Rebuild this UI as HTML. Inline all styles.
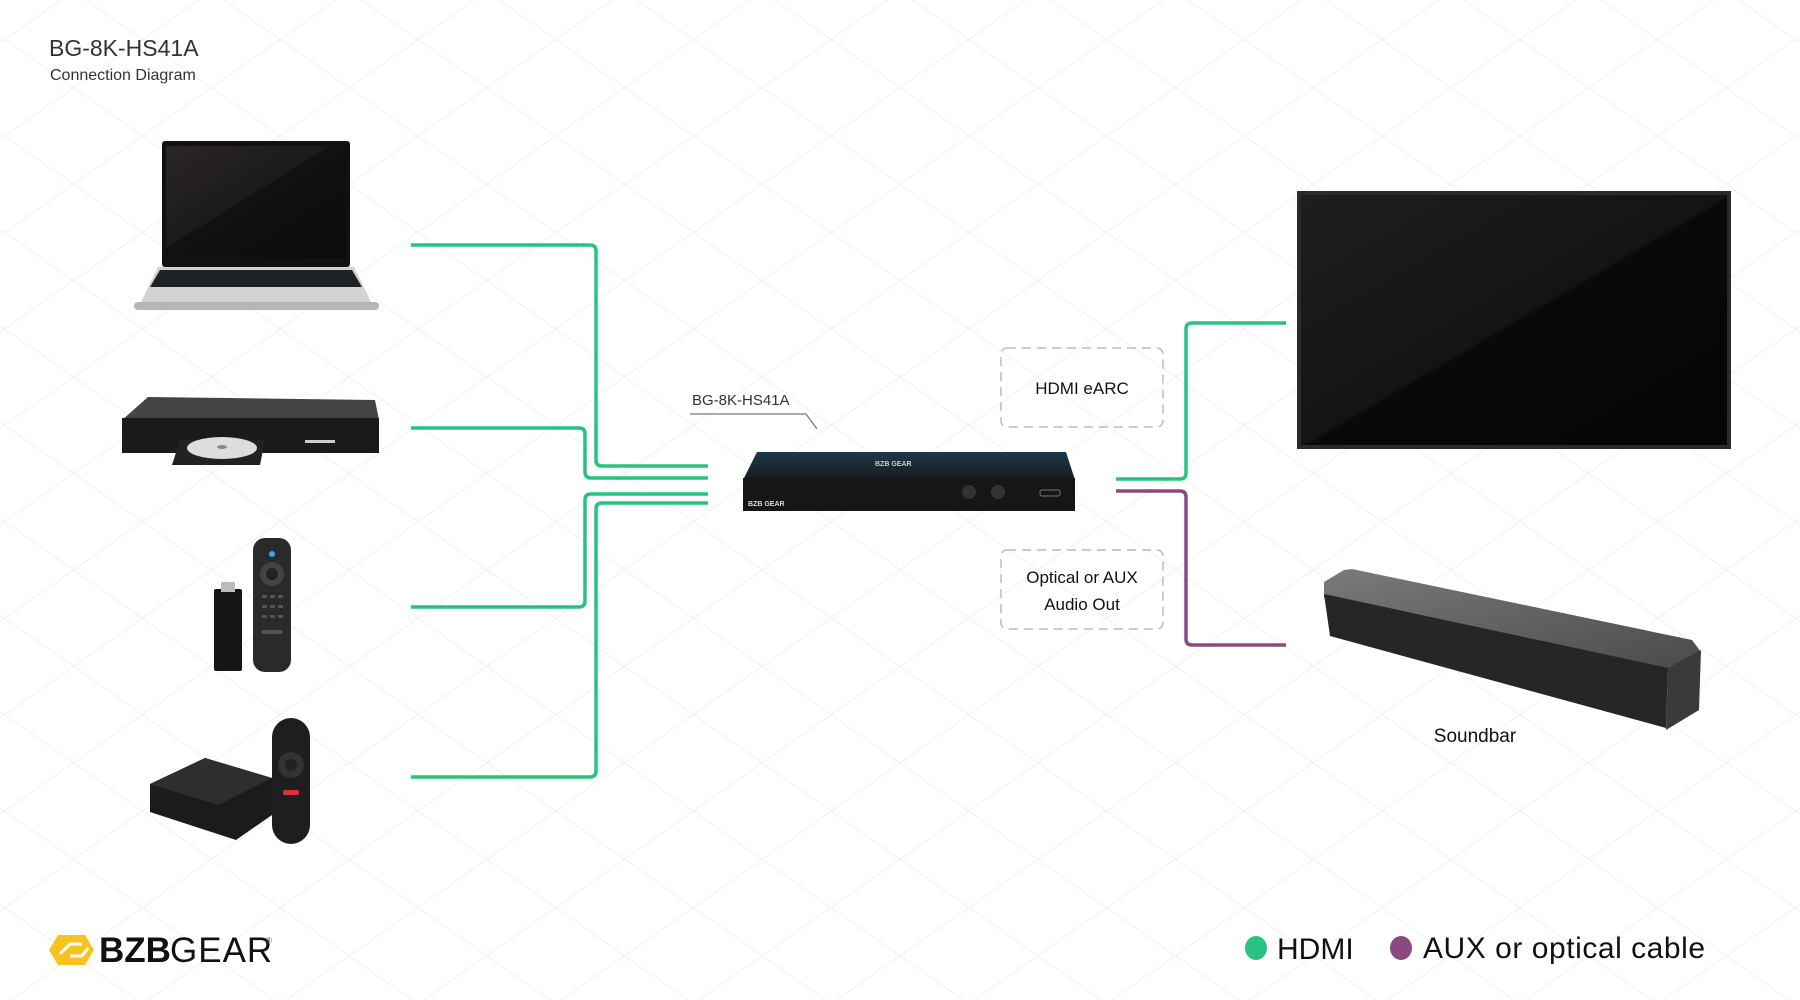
<!DOCTYPE html>
<html><head><meta charset="utf-8"><style>
html,body{margin:0;padding:0;}
body{width:1800px;height:1000px;overflow:hidden;background:#fff;font-family:"Liberation Sans",sans-serif;position:relative;}
.grid{position:absolute;inset:0;background:
repeating-linear-gradient(35deg,transparent 0 78px,#f1f1f1 78px 79px),
repeating-linear-gradient(-35deg,transparent 0 78px,#f1f1f1 78px 79px);}
svg{position:absolute;left:0;top:0;}
</style></head><body>
<div class="grid"></div>
<svg width="1800" height="1000" viewBox="0 0 1800 1000" font-family="Liberation Sans, sans-serif">
<defs>
<linearGradient id="scr" x1="0" y1="0" x2="1" y2="1"><stop offset="0" stop-color="#2a2628"/><stop offset="0.45" stop-color="#1d1a1c"/><stop offset="0.46" stop-color="#121012"/><stop offset="1" stop-color="#0c0b0c"/></linearGradient>
<linearGradient id="tv" x1="0" y1="0" x2="1" y2="1"><stop offset="0" stop-color="#1e1e1e"/><stop offset="0.5" stop-color="#141414"/><stop offset="0.51" stop-color="#090909"/><stop offset="1" stop-color="#050505"/></linearGradient>
<linearGradient id="sb" x1="0" y1="0" x2="1" y2="1"><stop offset="0" stop-color="#7a7a7a"/><stop offset="1" stop-color="#4a4a4a"/></linearGradient>
<linearGradient id="dev" x1="0" y1="0" x2="0" y2="1"><stop offset="0" stop-color="#1d3a4a"/><stop offset="1" stop-color="#151a1e"/></linearGradient>
</defs>

<text x="49" y="56" font-size="23" fill="#333">BG-8K-HS41A</text>
<text x="50" y="80" font-size="16" fill="#333">Connection Diagram</text>

<!-- laptop -->
<rect x="162" y="141" width="188" height="126" rx="3" fill="#111"/>
<rect x="166" y="146" width="180" height="112" fill="url(#scr)"/>
<polygon points="158,267 354,267 372,304 140,304" fill="#d2d2d2"/>
<polygon points="160,270 352,270 362,287 150,287" fill="#1f2226"/>
<rect x="134" y="302" width="245" height="8" rx="4" fill="#b5b5b5"/>

<!-- bluray -->
<polygon points="122,420 148,397 375,400 379,420" fill="#444"/>
<rect x="122" y="418" width="257" height="35" fill="#1a1a1a"/>
<polygon points="180,440 265,440 260,465 172,465" fill="#222"/>
<ellipse cx="222" cy="448" rx="35" ry="11" fill="#ddd"/>
<ellipse cx="222" cy="447" rx="5" ry="2" fill="#888"/>
<rect x="305" y="440" width="30" height="3" fill="#ccc"/>

<!-- fire stick + remote -->
<rect x="214" y="589" width="28" height="82" rx="2" fill="#151515"/>
<rect x="221" y="582" width="14" height="10" fill="#bbb"/>
<rect x="253" y="538" width="38" height="134" rx="12" fill="#2a2a2a"/>
<circle cx="272" cy="574" r="12" fill="#444"/>
<circle cx="272" cy="574" r="6" fill="#222"/>
<circle cx="272" cy="554" r="3" fill="#3aa6e0"/>
<g fill="#555"><rect x="262" y="595" width="5" height="3"/><rect x="270" y="595" width="5" height="3"/><rect x="278" y="595" width="5" height="3"/><rect x="262" y="605" width="5" height="3"/><rect x="270" y="605" width="5" height="3"/><rect x="278" y="605" width="5" height="3"/><rect x="262" y="615" width="5" height="3"/><rect x="270" y="615" width="5" height="3"/><rect x="278" y="615" width="5" height="3"/><rect x="262" y="630" width="20" height="4"/></g>

<!-- box + remote -->
<polygon points="150,784 205,758 272,778 272,815 236,840 150,812" fill="#1b1b1b"/>
<polygon points="150,784 205,758 272,778 218,805" fill="#2e2e2e"/>
<rect x="272" y="718" width="38" height="126" rx="19" fill="#1e1e1e"/>
<circle cx="291" cy="765" r="13" fill="#333"/>
<circle cx="291" cy="765" r="6" fill="#222"/>
<rect x="283" y="790" width="16" height="5" rx="2" fill="#d33"/>

<g fill="none" stroke="#29c281" stroke-width="3.5" stroke-linejoin="round">
<path d="M411 245 H590 Q596 245 596 251 V460 Q596 466 602 466 H708"/>
<path d="M411 428 H579 Q585 428 585 434 V472 Q585 478 591 478 H708"/>
<path d="M411 607 H579 Q585 607 585 601 V500 Q585 494 591 494 H708"/>
<path d="M411 777 H590 Q596 777 596 771 V509 Q596 503 602 503 H708"/>
<path d="M1116 479 H1180 Q1186 479 1186 473 V329 Q1186 323 1192 323 H1286"/>
</g>
<path d="M1116 491 H1180 Q1186 491 1186 497 V639 Q1186 645 1192 645 H1286" fill="none" stroke="#8a4a80" stroke-width="3.5"/>

<!-- switch device -->
<polygon points="757,452 1066,452 1075,480 743,480" fill="url(#dev)"/>
<rect x="743" y="478" width="332" height="33" fill="#161616"/>
<text x="875" y="466" font-size="7" fill="#ccc" font-weight="bold">BZB GEAR</text>
<text x="748" y="506" font-size="7" fill="#ddd" font-weight="bold">BZB GEAR</text>
<g fill="#333"><circle cx="969" cy="492" r="7"/><circle cx="998" cy="492" r="7"/></g>
<rect x="1040" y="490" width="20" height="6" rx="2" fill="none" stroke="#777"/>

<text x="692" y="405" font-size="15" fill="#333">BG-8K-HS41A</text>
<polyline points="690,414 806,414 817,429" fill="none" stroke="#777" stroke-width="1.2"/>

<rect x="1001" y="348" width="162" height="79" rx="6" fill="none" stroke="#bbb" stroke-width="1.5" stroke-dasharray="9 6"/>
<text x="1082" y="394" font-size="17" fill="#111" text-anchor="middle">HDMI eARC</text>
<rect x="1001" y="550" width="162" height="79" rx="6" fill="none" stroke="#bbb" stroke-width="1.5" stroke-dasharray="9 6"/>
<text x="1082" y="583" font-size="17" fill="#111" text-anchor="middle">Optical or AUX</text>
<text x="1082" y="610" font-size="17" fill="#111" text-anchor="middle">Audio Out</text>

<rect x="1297" y="191" width="434" height="258" fill="#2a2a2a"/>
<rect x="1301" y="195" width="426" height="250" fill="url(#tv)"/>

<!-- soundbar -->
<polygon points="1324,582 1344,570 1352,569 1692,640 1701,652 1668,672 1324,598" fill="url(#sb)"/>
<polygon points="1324,594 1668,668 1666,728 1330,636" fill="#262626"/>
<polygon points="1668,668 1701,650 1699,710 1666,730" fill="#3a3a3a"/>

<text x="1475" y="742" font-size="19" fill="#111" text-anchor="middle">Soundbar</text>

<polygon points="58,935 85,935 94,950 85,965 58,965 49,950" fill="#f7c31c"/>
<path d="M60 954 L70 944 L82 944 M70 956 L82 956 L88 948" stroke="#fff" stroke-width="3" fill="none"/>
<text x="99" y="962" font-size="35" fill="#111" font-weight="bold">BZB</text>
<text x="170" y="962" font-size="35" fill="#111" letter-spacing="1">GEAR</text>
<text x="266" y="943" font-size="8" fill="#555">®</text>

<ellipse cx="1256" cy="948" rx="11" ry="12" fill="#29c281"/>
<text x="1277" y="959" font-size="30" fill="#111">HDMI</text>
<ellipse cx="1401" cy="948" rx="11" ry="12" fill="#8a4a80"/>
<text x="1423" y="958" font-size="30" fill="#111" textLength="282">AUX or optical cable</text>
</svg>
</body></html>
